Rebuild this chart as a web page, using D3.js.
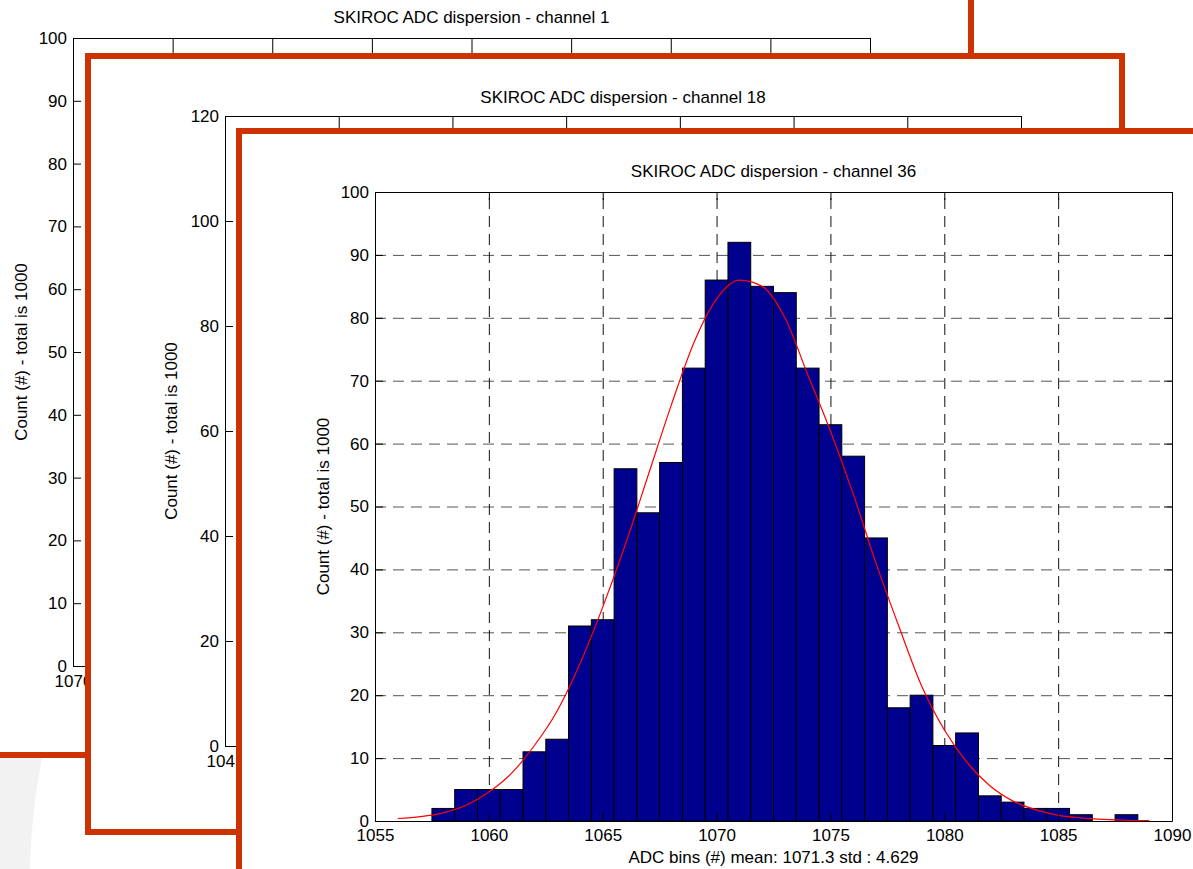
<!DOCTYPE html>
<html>
<head>
<meta charset="utf-8">
<script src="https://cdn.jsdelivr.net/npm/d3@7"></script>
<style>
  body { margin: 0; background: #fff; }
  svg text { font-family: "Liberation Sans", Arial, sans-serif; fill: #000; }
</style>
</head>
<body>
<svg id="chart" width="1193" height="869"></svg>
<script>
// ---- data ----
var titles = [
  "SKIROC ADC dispersion - channel 1",
  "SKIROC ADC dispersion - channel 18",
  "SKIROC ADC dispersion - channel 36"
];
var yLabel = "Count (#) - total is 1000";
var xLabel36 = "ADC bins (#) mean: 1071.3 std : 4.629";

var xTicks1 = [1070, 1075, 1080, 1085, 1090, 1095, 1100, 1105, 1110];
var yTicks1 = [0, 10, 20, 30, 40, 50, 60, 70, 80, 90, 100];
var xTicks18 = [1045, 1050, 1055, 1060, 1065, 1070, 1075, 1080];
var yTicks18 = [0, 20, 40, 60, 80, 100, 120];
var xTicks36 = [1055, 1060, 1065, 1070, 1075, 1080, 1085, 1090];
var yTicks36 = [0, 10, 20, 30, 40, 50, 60, 70, 80, 90, 100];

// channel 36 histogram (bin centres, counts)
var bins36 = [1056, 1057, 1058, 1059, 1060, 1061, 1062, 1063, 1064, 1065, 1066, 1067,
              1068, 1069, 1070, 1071, 1072, 1073, 1074, 1075, 1076, 1077, 1078, 1079,
              1080, 1081, 1082, 1083, 1084, 1085, 1086, 1087, 1088, 1089];
var counts36 = [0, 0, 2, 5, 5, 5, 11, 13, 31, 32, 56, 49,
                57, 72, 86, 92, 85, 84, 72, 63, 58, 45, 18, 20,
                12, 14, 4, 3, 2, 2, 1, 0, 1, 0];

// red fit curve
var fitX36 = [1056, 1057, 1058, 1059, 1060, 1061, 1062, 1063, 1064, 1065, 1066, 1067,
              1068, 1069, 1070, 1071, 1072, 1073, 1074, 1075, 1076, 1077, 1078, 1079,
              1080, 1081, 1082, 1083, 1084, 1085, 1086, 1087, 1088, 1089];
var fitY36 = [0.4, 0.7, 1.3, 2.5, 4.6, 7.6, 12, 17.5, 25, 34, 44, 55,
              66, 76, 83, 86, 85, 80, 71, 62, 52, 41, 31, 21.5,
              14.5, 9.3, 5.6, 3.2, 1.8, 0.9, 0.5, 0.25, 0.1, 0.05];

var frameColor = "#cc3300";
var svg = d3.select("#chart");

// light grey shape at bottom left
svg.append("path")
  .attr("d", "M0,758 L42,758 C36,790 31,825 30,869 L0,869 Z")
  .attr("fill", "#f2f2f2");

function frame(x0, y0, x1, y1) {
  svg.append("rect")
    .attr("x", x0).attr("y", y0)
    .attr("width", x1 - x0).attr("height", y1 - y0)
    .attr("fill", "#fff")
    .attr("stroke", frameColor)
    .attr("stroke-width", 6);
}

// draws the axes box, ticks and labels of one MATLAB style plot
function panel(p) {
  var x = d3.scaleLinear().domain(d3.extent(p.xTicks)).range([p.left, p.right]);
  var y = d3.scaleLinear().domain(d3.extent(p.yTicks)).range([p.bottom, p.top]);
  var w = p.right - p.left, h = p.bottom - p.top;
  var fmt = d3.format("d");
  var g = svg.append("g");

  if (p.grid) {
    g.append("g")
      .attr("transform", "translate(" + p.left + ",0)")
      .call(d3.axisLeft(y).tickValues(p.yTicks.slice(1, -1)).tickSize(-w).tickFormat(""))
      .call(s => s.select(".domain").remove())
      .selectAll("line").attr("stroke", "#555").attr("stroke-dasharray", "11,7");
    g.append("g")
      .attr("transform", "translate(0," + p.bottom + ")")
      .call(d3.axisBottom(x).tickValues(p.xTicks.slice(1, -1)).tickSize(-h).tickFormat(""))
      .call(s => s.select(".domain").remove())
      .selectAll("line").attr("stroke", "#111").attr("stroke-dasharray", "11,7");
  }

  if (p.marks) p.marks(g, x, y);

  var fs = "17px";
  g.append("g")
    .attr("transform", "translate(" + p.left + ",0)")
    .call(d3.axisLeft(y).tickValues(p.yTicks).tickFormat(fmt).tickSize(-8).tickSizeOuter(0).tickPadding(6))
    .call(s => s.selectAll("text").attr("font-size", fs).attr("font-family", null));
  g.append("g")
    .attr("transform", "translate(0," + p.bottom + ")")
    .call(d3.axisBottom(x).tickValues(p.xTicks).tickFormat(fmt).tickSize(-8).tickSizeOuter(0).tickPadding(p.xPad))
    .call(s => s.selectAll("text").attr("font-size", fs).attr("font-family", null));
  g.append("g")
    .attr("transform", "translate(0," + p.top + ")")
    .call(d3.axisTop(x).tickValues(p.xTicks).tickSize(-p.topTick).tickSizeOuter(0).tickFormat(""));
  g.append("g")
    .attr("transform", "translate(" + p.right + ",0)")
    .call(d3.axisRight(y).tickValues(p.yTicks).tickSize(-8).tickSizeOuter(0).tickFormat(""));

  g.selectAll(".domain").attr("stroke", "#000");
  g.selectAll(".tick line:not([stroke-dasharray])").attr("stroke", "#000");

  g.append("text")
    .attr("x", (p.left + p.right) / 2).attr("y", p.titleY)
    .attr("text-anchor", "middle").attr("font-size", fs)
    .text(p.title);
  g.append("text")
    .attr("transform", "translate(" + p.yLabelX + "," + (p.top + p.bottom) / 2 + ") rotate(-90)")
    .attr("text-anchor", "middle").attr("font-size", fs)
    .text(yLabel);
  if (p.xLabel) {
    g.append("text")
      .attr("x", (p.left + p.right) / 2).attr("y", p.xLabelY)
      .attr("text-anchor", "middle").attr("font-size", fs)
      .text(p.xLabel);
  }
}

// back page: channel 1
frame(-20, -20, 971, 755);
panel({
  left: 73, right: 870, top: 38, bottom: 666,
  xTicks: xTicks1, yTicks: yTicks1, topTick: 16, xPad: 9,
  title: titles[0], titleY: 23, yLabelX: 27
});

// middle page: channel 18
frame(88, 56, 1122, 832);
panel({
  left: 225, right: 1021, top: 116, bottom: 746,
  xTicks: xTicks18, yTicks: yTicks18, topTick: 16, xPad: 9,
  title: titles[1], titleY: 103, yLabelX: 177
});

// front page: channel 36
frame(239, 131, 1260, 960);
panel({
  left: 375, right: 1172, top: 192, bottom: 821,
  xTicks: xTicks36, yTicks: yTicks36, topTick: 8, xPad: 8, grid: true,
  title: titles[2], titleY: 177, yLabelX: 329,
  xLabel: xLabel36, xLabelY: 863,
  marks: function (g, x, y) {
    g.append("g").selectAll("rect")
      .data(bins36)
      .join("rect")
      .attr("x", d => x(d - 0.5))
      .attr("width", d => x(d + 0.5) - x(d - 0.5))
      .attr("y", (d, i) => y(counts36[i]))
      .attr("height", (d, i) => y(0) - y(counts36[i]))
      .attr("fill", "#00008f")
      .attr("stroke", "#000")
      .attr("stroke-width", 1);

    var line = d3.line()
      .curve(d3.curveMonotoneX)
      .x((d, i) => x(d))
      .y((d, i) => y(fitY36[i]));
    g.append("path")
      .datum(fitX36)
      .attr("d", line)
      .attr("fill", "none")
      .attr("stroke", "#ff0000")
      .attr("stroke-width", 1.2);
  }
});
</script>
</body>
</html>
